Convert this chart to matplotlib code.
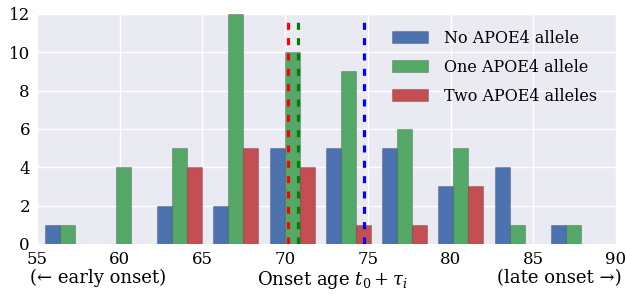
import numpy as np
import matplotlib
matplotlib.use("Agg")
import matplotlib.pyplot as plt

# ---- data ----
bin_lo, bin_hi, n_bins = 55.12, 89.12, 10
series_labels = ["No APOE4 allele", "One APOE4 allele", "Two APOE4 alleles"]
counts_none = [1, 0, 2, 2, 5, 5, 5, 3, 4, 1]
counts_one = [1, 4, 5, 12, 10, 9, 6, 5, 1, 1]
counts_two = [0, 0, 4, 5, 4, 1, 1, 3, 0, 0]
mean_two = 70.18
mean_one = 70.77
mean_none = 74.78
series_colors = ["#4C72B0", "#55A868", "#C44E52"]
xticks = [55, 60, 65, 70, 75, 80, 85, 90]
yticks = [0, 2, 4, 6, 8, 10, 12]

FS = 11.5
FS_LOW = 13
plt.rcParams["font.family"] = ["DejaVu Serif"]
plt.rcParams["mathtext.fontset"] = "dejavuserif"
plt.rcParams["font.size"] = FS

fig = plt.figure(figsize=(6.26, 2.96), dpi=100)
ax = fig.add_axes([0.059, 0.176, 0.925, 0.777])
ax.set_facecolor("#EAEAF2")
for s in ax.spines.values():
    s.set_visible(False)
ax.grid(True, color="white", linewidth=1.0)
ax.set_axisbelow(True)
ax.tick_params(length=0, pad=5, labelsize=12)

edges = np.linspace(bin_lo, bin_hi, n_bins + 1)
centers = (edges[:-1] + edges[1:]) / 2
data = [centers, centers, centers]
weights = [counts_none, counts_one, counts_two]
ax.hist(data, bins=edges, weights=weights, color=series_colors,
        label=series_labels, edgecolor=(0, 0, 0, 0.2), linewidth=0.8)

for m, c in zip([mean_two, mean_one, mean_none], ["r", "g", "b"]):
    ax.axvline(m, color=c, linewidth=2.3, linestyle=(0, (2.2, 2.6)), zorder=5)

ax.set_xlim(55, 90)
ax.set_ylim(0, 12)
ax.set_xticks(xticks)
ax.set_yticks(yticks)

leg = ax.legend(loc="upper right", bbox_to_anchor=(0.99, 0.987),
                frameon=False, fontsize=FS,
                handlelength=2.3, handletextpad=1.0, borderaxespad=0.4,
                labelspacing=0.75)

ax.text(-0.012, -0.11, "(\u2190 early onset)", transform=ax.transAxes,
        ha="left", va="top", fontsize=FS_LOW)
ax.text(0.51, -0.11, "Onset age $t_0 + \\tau_i$", transform=ax.transAxes,
        ha="center", va="top", fontsize=FS_LOW)
ax.text(1.01, -0.11, "(late onset \u2192)", transform=ax.transAxes,
        ha="right", va="top", fontsize=FS_LOW)

fig.savefig("out.png", dpi=100)
